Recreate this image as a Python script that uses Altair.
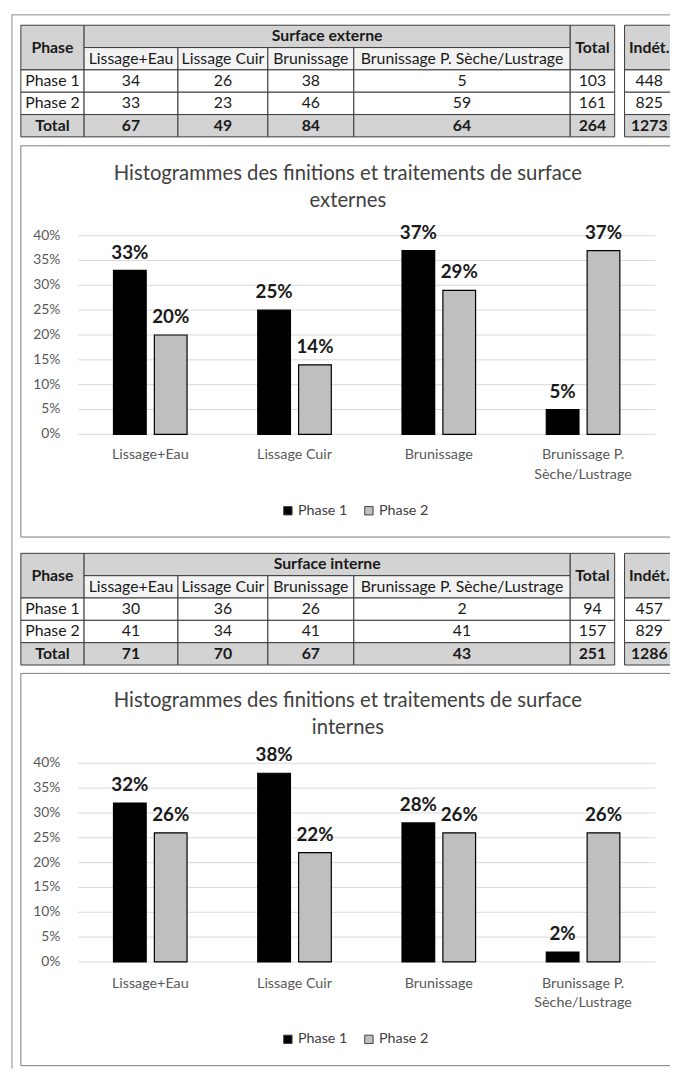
import altair as alt
import pandas as pd

# ---------------- data ----------------
categories = ["Lissage+Eau", "Lissage Cuir", "Brunissage", "Brunissage P. Sèche/Lustrage"]
cat_labels = ["Lissage+Eau", "Lissage Cuir", "Brunissage", "Brunissage P.\nSèche/Lustrage"]
phases = ["Phase 1", "Phase 2"]

ext_phase1 = [34, 26, 38, 5]
ext_phase2 = [33, 23, 46, 59]
ext_total_row = [67, 49, 84, 64]
ext_totals = [103, 161, 264]
ext_indet = [448, 825, 1273]

int_phase1 = [30, 36, 26, 2]
int_phase2 = [41, 34, 41, 41]
int_total_row = [71, 70, 67, 43]
int_totals = [94, 157, 251]
int_indet = [457, 829, 1286]

ext_pct_phase1 = [0.33, 0.25, 0.37, 0.05]
ext_pct_phase2 = [0.20, 0.14, 0.29, 0.37]
int_pct_phase1 = [0.32, 0.38, 0.28, 0.02]
int_pct_phase2 = [0.26, 0.22, 0.26, 0.26]

y_ticks = [0.0, 0.05, 0.10, 0.15, 0.20, 0.25, 0.30, 0.35, 0.40]

title_ext = ["Histogrammes des finitions et traitements de surface", "externes"]
title_int = ["Histogrammes des finitions et traitements de surface", "internes"]

# ---------------- layout ----------------
W, H = 670, 1067
FONT = "Lato"
GRAY = "#d3d3d3"
LIGHT = "#f3f3f3"
WHITE = "#ffffff"
col_edges = [13, 77, 172, 263, 350, 569, 614]
indet_edges = [624, 674]
ROW_H = 22.6


def table_cells(top, surface_label, p1, p2, totrow, totals, indet):
    r = [top + i * ROW_H for i in range(6)]
    cells = []

    def add(x0, x1, y0, y1, text, fill, bold):
        cells.append(dict(x0=x0, x1=x1, y0=y0, y1=y1, xc=(x0 + x1) / 2,
                          yc=(y0 + y1) / 2, text=text, fill=fill, bold=bold))

    c = col_edges
    add(c[0], c[1], r[0], r[2], "Phase", GRAY, True)
    add(c[1], c[5], r[0], r[1], surface_label, GRAY, True)
    for i, cat in enumerate(categories):
        add(c[i + 1], c[i + 2], r[1], r[2], cat, LIGHT, False)
    add(c[5], c[6], r[0], r[2], "Total", GRAY, True)
    add(indet_edges[0], indet_edges[1], r[0], r[2], "Indét.", GRAY, True)
    rows = [("Phase 1", p1, WHITE, False), ("Phase 2", p2, WHITE, False),
            ("Total", totrow, GRAY, True)]
    for j, (lab, vals, fill, bold) in enumerate(rows):
        y0, y1 = r[2 + j], r[3 + j]
        add(c[0], c[1], y0, y1, lab, fill, bold)
        for i, v in enumerate(vals):
            add(c[i + 1], c[i + 2], y0, y1, str(v), fill, bold)
        add(c[5], c[6], y0, y1, str(totals[j]), fill, bold)
        add(indet_edges[0], indet_edges[1], y0, y1, str(indet[j]), fill, bold)
    return cells


cells = (table_cells(11, "Surface externe", ext_phase1, ext_phase2, ext_total_row, ext_totals, ext_indet)
         + table_cells(545.5, "Surface interne", int_phase1, int_phase2, int_total_row, int_totals, int_indet))
cells_df = pd.DataFrame(cells)

px_x = alt.Scale(domain=[0, W], range=[0, W], zero=False, nice=False)
px_y = alt.Scale(domain=[0, H], range=[0, H], zero=False, nice=False)

one = pd.DataFrame({"k": [0]})

rects = alt.Chart(cells_df).mark_rect(stroke="#3a3a3a", strokeWidth=1).encode(
    x=alt.X("x0:Q", scale=px_x, axis=None), x2="x1:Q",
    y=alt.Y("y0:Q", scale=px_y, axis=None), y2="y1:Q",
    fill=alt.Fill("fill:N", scale=None),
)
txt_reg = alt.Chart(cells_df).transform_filter("!datum.bold").mark_text(
    font=FONT, fontSize=16, color="#1a1a1a", baseline="middle", align="center").encode(
    x=alt.X("xc:Q", scale=px_x, axis=None), y=alt.Y("yc:Q", scale=px_y, axis=None), text="text:N")
txt_bold = alt.Chart(cells_df).transform_filter("datum.bold").mark_text(
    font=FONT, fontSize=16, fontWeight="bold", color="#1a1a1a", baseline="middle", align="center").encode(
    x=alt.X("xc:Q", scale=px_x, axis=None), y=alt.Y("yc:Q", scale=px_y, axis=None), text="text:N")

frame_left = alt.Chart(one).mark_rule(color="#8a8a8a", strokeWidth=1).encode(
    x=alt.value(4), y=alt.value(0), y2=alt.value(H))
frame_top = alt.Chart(one).mark_rule(color="#8a8a8a", strokeWidth=1).encode(
    x=alt.value(4), x2=alt.value(W), y=alt.value(0.5))

tables = alt.layer(frame_left, frame_top, rects, txt_reg, txt_bold)


def bar_chart(pct1, pct2, title_lines, box_top, box_bottom, zero_y, top_y, title_y, label_y, legend_y):
    df = pd.DataFrame({
        "category": categories * 2,
        "phase": [phases[0]] * 4 + [phases[1]] * 4,
        "pct": list(pct1) + list(pct2),
    })
    ticks_df = pd.DataFrame({"tick": y_ticks})
    cat_df = pd.DataFrame({"category": categories, "label": cat_labels})
    title_df = pd.DataFrame({"t": ["\n".join(title_lines)]})

    xs = alt.Scale(domain=categories, range=[71, 655], paddingInner=0.49, paddingOuter=0.245)
    ys = alt.Scale(domain=[0, 0.4], range=[zero_y, top_y], zero=False, nice=False)
    xo = alt.Scale(domain=phases, paddingInner=0.2, paddingOuter=0)
    fs = alt.Scale(domain=phases, range=["#000000", "#bfbfbf"])

    box = [
        alt.Chart(one).mark_rule(color="#7a7a7a").encode(x=alt.value(13), x2=alt.value(W), y=alt.value(box_top)),
        alt.Chart(one).mark_rule(color="#7a7a7a").encode(x=alt.value(13), x2=alt.value(W), y=alt.value(box_bottom)),
        alt.Chart(one).mark_rule(color="#7a7a7a").encode(x=alt.value(13), y=alt.value(box_top), y2=alt.value(box_bottom)),
    ]
    grid = alt.Chart(ticks_df).mark_rule(color="#d9d9d9", strokeWidth=1).encode(
        y=alt.Y("tick:Q", scale=ys, axis=None), x=alt.value(71), x2=alt.value(655))
    ylab = alt.Chart(ticks_df).mark_text(font=FONT, fontSize=14, color="#595959", align="right",
                                         baseline="middle").encode(
        y=alt.Y("tick:Q", scale=ys, axis=None), x=alt.value(53),
        text=alt.Text("tick:Q", format=".0%"))
    bars = alt.Chart(df).mark_bar(stroke="#000000", strokeWidth=1.2).encode(
        x=alt.X("category:N", scale=xs, axis=None, sort=categories),
        xOffset=alt.XOffset("phase:N", scale=xo, sort=phases),
        y=alt.Y("pct:Q", scale=ys, axis=None),
        fill=alt.Fill("phase:N", scale=fs, sort=phases,
                      legend=alt.Legend(orient="none", legendX=276, legendY=legend_y,
                                        direction="horizontal", title=None)),
    )
    vals = alt.Chart(df).mark_text(font=FONT, fontSize=19, fontWeight="bold", color="#1a1a1a",
                                   baseline="alphabetic", dy=-12).encode(
        x=alt.X("category:N", scale=xs, axis=None, sort=categories),
        xOffset=alt.XOffset("phase:N", scale=xo, sort=phases),
        y=alt.Y("pct:Q", scale=ys, axis=None),
        text=alt.Text("pct:Q", format=".0%"),
    )
    clab = alt.Chart(cat_df).mark_text(font=FONT, fontSize=14.5, color="#595959", baseline="top",
                                       lineBreak="\n", lineHeight=20).encode(
        x=alt.X("category:N", scale=xs, axis=None, sort=categories), y=alt.value(label_y), text="label:N")
    title = alt.Chart(title_df).mark_text(font=FONT, fontSize=20.5, color="#404040", baseline="middle",
                                          lineBreak="\n", lineHeight=27).encode(
        x=alt.value(344), y=alt.value(title_y), text="t:N")
    return alt.layer(*box, grid, ylab, bars, vals, clab, title)


chart1 = bar_chart(ext_pct_phase1, ext_pct_phase2, title_ext, 133, 529, 425, 224, 162, 439, 495)
chart2 = bar_chart(int_pct_phase1, int_pct_phase2, title_int, 667, 1064, 959, 758, 695, 974, 1030)

chart = alt.layer(tables, chart1, chart2).resolve_scale(
    x="independent", y="independent", fill="independent", xOffset="independent"
).properties(
    width=W, height=H, padding=0, autosize=alt.AutoSizeParams(type="none")
).configure_view(stroke=None).configure_legend(
    symbolType="square", symbolSize=72, labelFont=FONT, labelFontSize=14.5, labelColor="#404040",
    symbolStrokeColor="#404040", symbolStrokeWidth=1, columnPadding=14, labelOffset=3, padding=0,
)

chart.save("out.html", embed_options={"renderer": "svg", "actions": False})
